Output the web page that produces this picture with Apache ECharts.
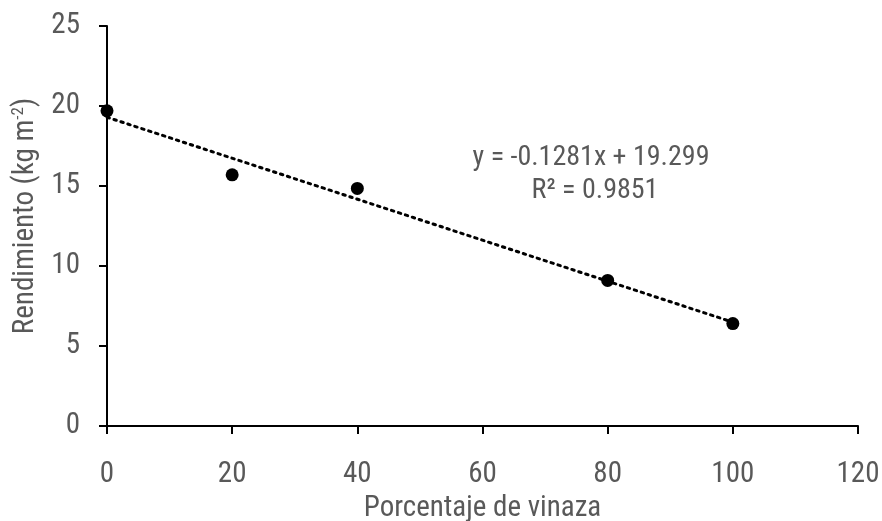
<!DOCTYPE html>
<html><head><meta charset="utf-8">
<script src="https://cdn.jsdelivr.net/npm/echarts@6/dist/echarts.min.js"></script>
<style>html,body{margin:0;padding:0;background:#fff}#c{width:882px;height:521px}</style>
</head><body><div id="c"></div>
<script>
const xValues = [0, 20, 40, 80, 100];
const yValues = [19.7, 15.7, 14.85, 9.1, 6.4];
const trendX = [0, 100];
const trendY = [19.299, 6.489];
const equationText = 'y = -0.1281x + 19.299';
const r2Text = 'R² = 0.9851';
const xTicks = [0, 20, 40, 60, 80, 100, 120];
const yTicks = [0, 5, 10, 15, 20, 25];

const FONT = '"Liberation Sans Narrow", "Arial Narrow", "Roboto Condensed", sans-serif';
const GRAY = '#595959';
const chart = echarts.init(document.getElementById('c'));
chart.setOption({
  animation: false,
  backgroundColor: '#fff',
  grid: { left: 107, right: 24, top: 26, bottom: 95, containLabel: false, outerBoundsMode: 'none' },
  xAxis: {
    type: 'value', min: xTicks[0], max: xTicks[xTicks.length-1], interval: 20,
    splitLine: { show: false },
    axisLine: { lineStyle: { color: '#000', width: 2 } },
    axisTick: { show: true, length: 8, lineStyle: { color: '#000', width: 2 } },
    axisLabel: { color: GRAY, fontFamily: FONT, fontSize: 29, margin: 34 },
    name: 'Porcentaje de vinaza', nameLocation: 'middle', nameGap: 68,
    nameTextStyle: { color: GRAY, fontFamily: FONT, fontSize: 29 }
  },
  yAxis: {
    type: 'value', min: yTicks[0], max: yTicks[yTicks.length-1], interval: 5,
    splitLine: { show: false },
    axisLine: { show: true, lineStyle: { color: '#000', width: 2 } },
    axisTick: { show: true, length: 8, lineStyle: { color: '#000', width: 2 } },
    axisLabel: { color: GRAY, fontFamily: FONT, fontSize: 29, margin: 27 },
    name: '{a|Rendimiento (kg m}{s|-2}{a|)}', nameLocation: 'middle', nameGap: 58,
    nameTextStyle: {
      color: GRAY, fontFamily: FONT, fontSize: 29, padding: [0, 0, 0, 20],
      rich: {
        a: { color: GRAY, fontFamily: FONT, fontSize: 29 },
        s: { color: GRAY, fontFamily: FONT, fontSize: 17, verticalAlign: 'top', padding: [0,0,14,0] }
      }
    }
  },
  series: [
    {
      type: 'line', data: trendX.map((x,i)=>[x, trendY[i]]), symbol: 'none', z: 1,
      lineStyle: { color: '#000', width: 3, type: [2.5, 4.8], cap: 'round' }
    },
    {
      type: 'scatter', data: xValues.map((x,i)=>[x, yValues[i]]), symbolSize: 13, z: 2,
      itemStyle: { color: '#000', opacity: 1 }
    }
  ],
  graphic: [
    { type: 'text', x: 591, y: 158, style: { text: equationText, fill: GRAY, font: '28px ' + FONT, align: 'center', verticalAlign: 'middle' } },
    { type: 'text', x: 595, y: 191, style: { text: r2Text, fill: GRAY, font: '28px ' + FONT, align: 'center', verticalAlign: 'middle' } }
  ]
});
</script></body></html>
